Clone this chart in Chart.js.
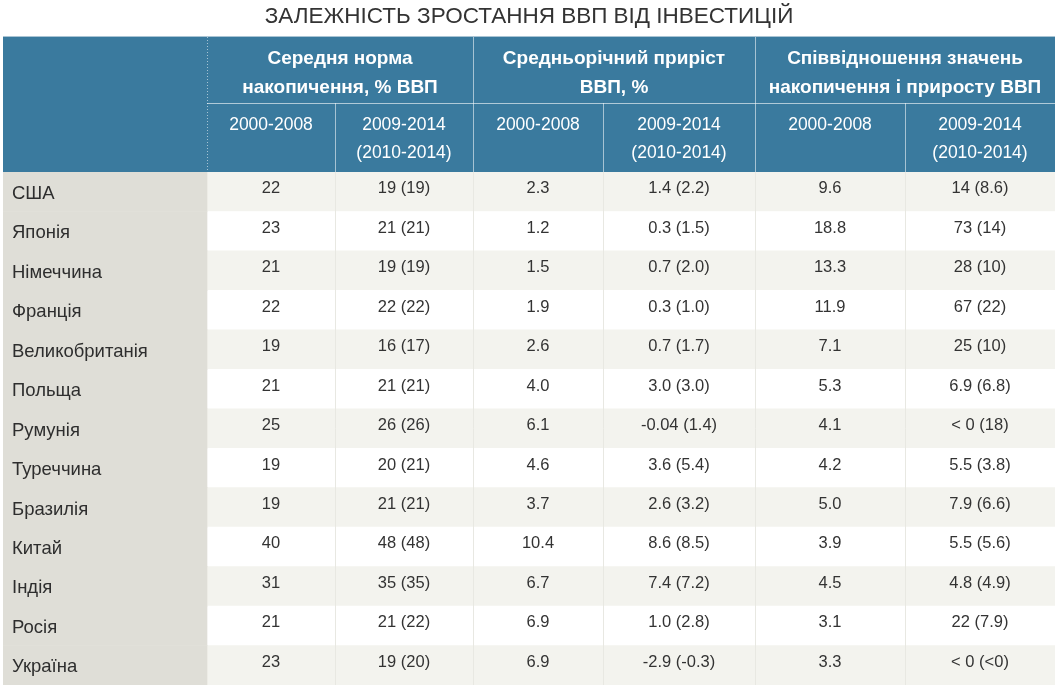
<!DOCTYPE html>
<html lang="uk">
<head>
<meta charset="UTF-8">
<title>Залежність зростання ВВП від інвестицій</title>
<script src="https://cdn.jsdelivr.net/npm/chart.js"></script>
<style>
  html, body { margin: 0; padding: 0; background: #fff; }
  #wrap { width: 1059px; height: 688px; }
</style>
</head>
<body>
<div id="wrap"><canvas id="tableChart"></canvas></div>
<script>
// Дані таблиці
const countries = ["США", "Японія", "Німеччина", "Франція", "Великобританія", "Польща", "Румунія",
                   "Туреччина", "Бразилія", "Китай", "Індія", "Росія", "Україна"];
const accum0008  = ["22", "23", "21", "22", "19", "21", "25", "19", "19", "40", "31", "21", "23"];
const accum0914  = ["19 (19)", "21 (21)", "19 (19)", "22 (22)", "16 (17)", "21 (21)", "26 (26)",
                    "20 (21)", "21 (21)", "48 (48)", "35 (35)", "21 (22)", "19 (20)"];
const growth0008 = ["2.3", "1.2", "1.5", "1.9", "2.6", "4.0", "6.1", "4.6", "3.7", "10.4", "6.7", "6.9", "6.9"];
const growth0914 = ["1.4 (2.2)", "0.3 (1.5)", "0.7 (2.0)", "0.3 (1.0)", "0.7 (1.7)", "3.0 (3.0)", "-0.04 (1.4)",
                    "3.6 (5.4)", "2.6 (3.2)", "8.6 (8.5)", "7.4 (7.2)", "1.0 (2.8)", "-2.9 (-0.3)"];
const ratio0008  = ["9.6", "18.8", "13.3", "11.9", "7.1", "5.3", "4.1", "4.2", "5.0", "3.9", "4.5", "3.1", "3.3"];
const ratio0914  = ["14 (8.6)", "73 (14)", "28 (10)", "67 (22)", "25 (10)", "6.9 (6.8)", "< 0 (18)",
                    "5.5 (3.8)", "7.9 (6.6)", "5.5 (5.6)", "4.8 (4.9)", "22 (7.9)", "< 0 (<0)"];

const groupTitles = [["Середня норма", "накопичення, % ВВП"],
                     ["Средньорічний приріст", "ВВП, %"],
                     ["Співвідношення значень", "накопичення і приросту ВВП"]];
const periodLabels = [["2000-2008"], ["2009-2014", "(2010-2014)"]];

const columns = [accum0008, accum0914, growth0008, growth0914, ratio0008, ratio0914];

// межі колонок (ширини), не дані
const colEdges = [0, 204, 332, 470, 600, 752, 902, 1052];
const FONT = "'Liberation Sans', Arial, sans-serif";

const tablePlugin = {
  id: 'tableCells',
  afterDatasetsDraw(chart) {
    const { ctx, chartArea, scales: { x, y } } = chart;
    const top = chartArea.top, bottom = chartArea.bottom;
    const hTop = top - 136, hMid = top - 69;
    const px = v => x.getPixelForValue(v);

    ctx.save();
    // шапка
    ctx.fillStyle = '#3a7a9e';
    ctx.fillRect(px(0), hTop, px(1052) - px(0), top - hTop);
    ctx.strokeStyle = '#a9c4d4';
    ctx.lineWidth = 1;
    ctx.beginPath();
    ctx.moveTo(px(0), hTop + 0.5); ctx.lineTo(px(1052), hTop + 0.5);
    ctx.stroke();

    ctx.strokeStyle = 'rgba(255,255,255,0.6)';
    ctx.beginPath();
    ctx.moveTo(px(colEdges[1]), hMid + 0.5); ctx.lineTo(px(1052), hMid + 0.5);
    ctx.stroke();

    // вертикальні лінії шапки
    colEdges.slice(1, -1).forEach((e, i) => {
      const xx = Math.round(px(e)) + 0.5;
      const full = i % 2 === 0;
      ctx.setLineDash(i === 0 ? [1, 2] : []);
      ctx.strokeStyle = 'rgba(255,255,255,0.55)';
      ctx.beginPath();
      ctx.moveTo(xx, full ? hTop + 1 : hMid);
      ctx.lineTo(xx, top);
      ctx.stroke();
    });
    ctx.setLineDash([]);

    // вертикальні лінії тіла
    ctx.strokeStyle = '#e8e8e2';
    colEdges.slice(2, -1).forEach(e => {
      const xx = Math.round(px(e)) + 0.5;
      ctx.beginPath();
      ctx.moveTo(xx, top); ctx.lineTo(xx, bottom);
      ctx.stroke();
    });

    ctx.textAlign = 'center';
    ctx.textBaseline = 'middle';
    ctx.fillStyle = '#ffffff';

    // заголовки груп
    ctx.font = 'bold 19px ' + FONT;
    groupTitles.forEach((lines, g) => {
      const cx = (px(colEdges[1 + g * 2]) + px(colEdges[3 + g * 2])) / 2;
      lines.forEach((t, k) => ctx.fillText(t, cx, hTop + 23 + k * 29));
    });

    // періоди
    ctx.font = '17.5px ' + FONT;
    columns.forEach((col, c) => {
      const cx = (px(colEdges[c + 1]) + px(colEdges[c + 2])) / 2;
      periodLabels[c % 2].forEach((t, k) => ctx.fillText(t, cx, hMid + 22 + k * 28));
    });

    // значення
    ctx.fillStyle = '#333333';
    ctx.font = '16.5px ' + FONT;
    columns.forEach((col, c) => {
      const cx = (px(colEdges[c + 1]) + px(colEdges[c + 2])) / 2;
      col.forEach((v, i) => ctx.fillText(v, cx, y.getPixelForValue(i) - 3));
    });

    // країни
    ctx.textAlign = 'left';
    ctx.fillStyle = '#2e2e2e';
    ctx.font = '18.5px ' + FONT;
    countries.forEach((name, i) => ctx.fillText(name, px(0) + 9, y.getPixelForValue(i) + 2));

    ctx.restore();
  }
};

const rowShade = countries.map((_, i) => i % 2 === 0 ? '#f3f3ee' : '#ffffff');

new Chart(document.getElementById('tableChart'), {
  type: 'bar',
  data: {
    labels: countries,
    datasets: [
      {
        label: 'Країна',
        data: countries.map(() => [colEdges[0], colEdges[1]]),
        backgroundColor: '#dfded7',
        grouped: false, barPercentage: 1, categoryPercentage: 1, borderWidth: 0
      },
      {
        label: 'Рядки',
        data: countries.map(() => [colEdges[1], colEdges[7]]),
        backgroundColor: rowShade,
        grouped: false, barPercentage: 1, categoryPercentage: 1, borderWidth: 0
      }
    ]
  },
  options: {
    indexAxis: 'y',
    responsive: true,
    maintainAspectRatio: false,
    animation: false,
    events: [],
    layout: { padding: { left: 3, right: 4, bottom: 3, top: 0 } },
    scales: {
      x: { type: 'linear', min: 0, max: 1052, display: false },
      y: { type: 'category', display: false, offset: true }
    },
    plugins: {
      legend: { display: false },
      tooltip: { enabled: false },
      title: {
        display: true,
        text: 'ЗАЛЕЖНІСТЬ ЗРОСТАННЯ ВВП ВІД ІНВЕСТИЦІЙ',
        color: '#333333',
        font: { family: FONT, size: 22.5, weight: 'normal' },
        padding: { top: 3, bottom: 142 }
      }
    }
  },
  plugins: [tablePlugin]
});
</script>
</body>
</html>
